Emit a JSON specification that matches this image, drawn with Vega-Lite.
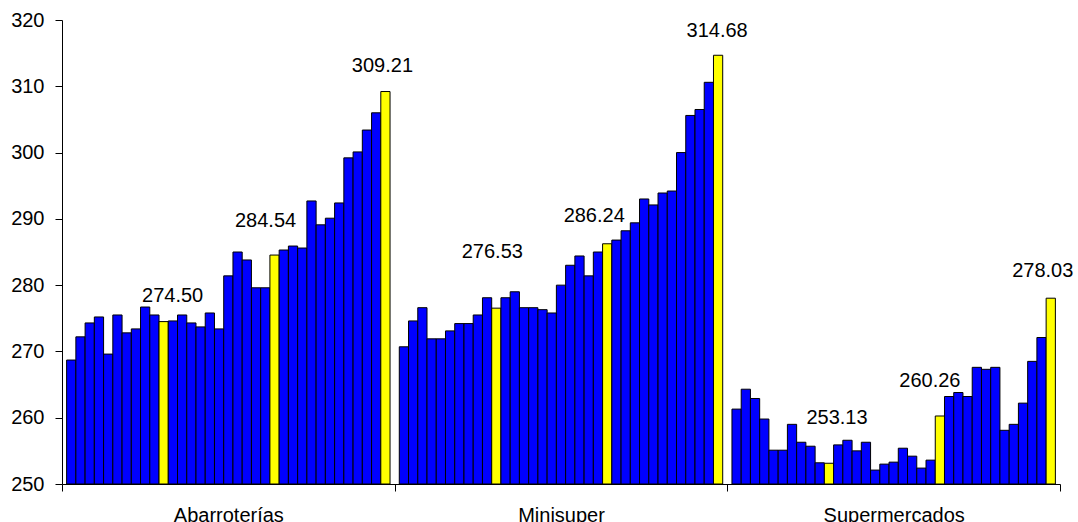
{
  "$schema": "https://vega.github.io/schema/vega-lite/v6.json",
  "width": 998,
  "height": 464,
  "autosize": "none",
  "padding": {"left": 62, "top": 20, "right": 18, "bottom": 38},
  "background": "white",
  "config": {
    "view": {"stroke": null},
    "font": "Liberation Sans",
    "axis": {"labelFont": "Liberation Sans", "labelFontSize": 20, "labelColor": "black", "domainColor": "black", "tickColor": "black", "grid": false, "title": null}
  },
  "data": {"values": [
    {"tipo": "Abarroterías", "n": 1, "precio": 268.7, "dic": "no"},
    {"tipo": "Abarroterías", "n": 2, "precio": 272.2, "dic": "no"},
    {"tipo": "Abarroterías", "n": 3, "precio": 274.3, "dic": "no"},
    {"tipo": "Abarroterías", "n": 4, "precio": 275.2, "dic": "no"},
    {"tipo": "Abarroterías", "n": 5, "precio": 269.6, "dic": "no"},
    {"tipo": "Abarroterías", "n": 6, "precio": 275.5, "dic": "no"},
    {"tipo": "Abarroterías", "n": 7, "precio": 272.8, "dic": "no"},
    {"tipo": "Abarroterías", "n": 8, "precio": 273.4, "dic": "no"},
    {"tipo": "Abarroterías", "n": 9, "precio": 276.7, "dic": "no"},
    {"tipo": "Abarroterías", "n": 10, "precio": 275.5, "dic": "no"},
    {"tipo": "Abarroterías", "n": 11, "precio": 274.50, "dic": "sí"},
    {"tipo": "Abarroterías", "n": 12, "precio": 274.6, "dic": "no"},
    {"tipo": "Abarroterías", "n": 13, "precio": 275.5, "dic": "no"},
    {"tipo": "Abarroterías", "n": 14, "precio": 274.3, "dic": "no"},
    {"tipo": "Abarroterías", "n": 15, "precio": 273.7, "dic": "no"},
    {"tipo": "Abarroterías", "n": 16, "precio": 275.8, "dic": "no"},
    {"tipo": "Abarroterías", "n": 17, "precio": 273.4, "dic": "no"},
    {"tipo": "Abarroterías", "n": 18, "precio": 281.4, "dic": "no"},
    {"tipo": "Abarroterías", "n": 19, "precio": 285.0, "dic": "no"},
    {"tipo": "Abarroterías", "n": 20, "precio": 283.8, "dic": "no"},
    {"tipo": "Abarroterías", "n": 21, "precio": 279.6, "dic": "no"},
    {"tipo": "Abarroterías", "n": 22, "precio": 279.6, "dic": "no"},
    {"tipo": "Abarroterías", "n": 23, "precio": 284.54, "dic": "sí"},
    {"tipo": "Abarroterías", "n": 24, "precio": 285.3, "dic": "no"},
    {"tipo": "Abarroterías", "n": 25, "precio": 285.9, "dic": "no"},
    {"tipo": "Abarroterías", "n": 26, "precio": 285.6, "dic": "no"},
    {"tipo": "Abarroterías", "n": 27, "precio": 292.7, "dic": "no"},
    {"tipo": "Abarroterías", "n": 28, "precio": 289.1, "dic": "no"},
    {"tipo": "Abarroterías", "n": 29, "precio": 290.1, "dic": "no"},
    {"tipo": "Abarroterías", "n": 30, "precio": 292.4, "dic": "no"},
    {"tipo": "Abarroterías", "n": 31, "precio": 299.2, "dic": "no"},
    {"tipo": "Abarroterías", "n": 32, "precio": 300.1, "dic": "no"},
    {"tipo": "Abarroterías", "n": 33, "precio": 303.4, "dic": "no"},
    {"tipo": "Abarroterías", "n": 34, "precio": 306.0, "dic": "no"},
    {"tipo": "Abarroterías", "n": 35, "precio": 309.21, "dic": "sí"},
    {"tipo": "Minisuper", "n": 1, "precio": 270.7, "dic": "no"},
    {"tipo": "Minisuper", "n": 2, "precio": 274.6, "dic": "no"},
    {"tipo": "Minisuper", "n": 3, "precio": 276.6, "dic": "no"},
    {"tipo": "Minisuper", "n": 4, "precio": 271.9, "dic": "no"},
    {"tipo": "Minisuper", "n": 5, "precio": 271.9, "dic": "no"},
    {"tipo": "Minisuper", "n": 6, "precio": 273.1, "dic": "no"},
    {"tipo": "Minisuper", "n": 7, "precio": 274.2, "dic": "no"},
    {"tipo": "Minisuper", "n": 8, "precio": 274.2, "dic": "no"},
    {"tipo": "Minisuper", "n": 9, "precio": 275.5, "dic": "no"},
    {"tipo": "Minisuper", "n": 10, "precio": 278.1, "dic": "no"},
    {"tipo": "Minisuper", "n": 11, "precio": 276.53, "dic": "sí"},
    {"tipo": "Minisuper", "n": 12, "precio": 278.1, "dic": "no"},
    {"tipo": "Minisuper", "n": 13, "precio": 279.0, "dic": "no"},
    {"tipo": "Minisuper", "n": 14, "precio": 276.6, "dic": "no"},
    {"tipo": "Minisuper", "n": 15, "precio": 276.6, "dic": "no"},
    {"tipo": "Minisuper", "n": 16, "precio": 276.3, "dic": "no"},
    {"tipo": "Minisuper", "n": 17, "precio": 275.8, "dic": "no"},
    {"tipo": "Minisuper", "n": 18, "precio": 280.0, "dic": "no"},
    {"tipo": "Minisuper", "n": 19, "precio": 283.0, "dic": "no"},
    {"tipo": "Minisuper", "n": 20, "precio": 284.4, "dic": "no"},
    {"tipo": "Minisuper", "n": 21, "precio": 281.4, "dic": "no"},
    {"tipo": "Minisuper", "n": 22, "precio": 285.0, "dic": "no"},
    {"tipo": "Minisuper", "n": 23, "precio": 286.24, "dic": "sí"},
    {"tipo": "Minisuper", "n": 24, "precio": 286.8, "dic": "no"},
    {"tipo": "Minisuper", "n": 25, "precio": 288.2, "dic": "no"},
    {"tipo": "Minisuper", "n": 26, "precio": 289.4, "dic": "no"},
    {"tipo": "Minisuper", "n": 27, "precio": 293.0, "dic": "no"},
    {"tipo": "Minisuper", "n": 28, "precio": 292.1, "dic": "no"},
    {"tipo": "Minisuper", "n": 29, "precio": 293.9, "dic": "no"},
    {"tipo": "Minisuper", "n": 30, "precio": 294.2, "dic": "no"},
    {"tipo": "Minisuper", "n": 31, "precio": 300.0, "dic": "no"},
    {"tipo": "Minisuper", "n": 32, "precio": 305.6, "dic": "no"},
    {"tipo": "Minisuper", "n": 33, "precio": 306.5, "dic": "no"},
    {"tipo": "Minisuper", "n": 34, "precio": 310.6, "dic": "no"},
    {"tipo": "Minisuper", "n": 35, "precio": 314.68, "dic": "sí"},
    {"tipo": "Supermercados", "n": 1, "precio": 261.3, "dic": "no"},
    {"tipo": "Supermercados", "n": 2, "precio": 264.3, "dic": "no"},
    {"tipo": "Supermercados", "n": 3, "precio": 262.9, "dic": "no"},
    {"tipo": "Supermercados", "n": 4, "precio": 259.8, "dic": "no"},
    {"tipo": "Supermercados", "n": 5, "precio": 255.1, "dic": "no"},
    {"tipo": "Supermercados", "n": 6, "precio": 255.1, "dic": "no"},
    {"tipo": "Supermercados", "n": 7, "precio": 259.0, "dic": "no"},
    {"tipo": "Supermercados", "n": 8, "precio": 256.3, "dic": "no"},
    {"tipo": "Supermercados", "n": 9, "precio": 255.7, "dic": "no"},
    {"tipo": "Supermercados", "n": 10, "precio": 253.2, "dic": "no"},
    {"tipo": "Supermercados", "n": 11, "precio": 253.13, "dic": "sí"},
    {"tipo": "Supermercados", "n": 12, "precio": 255.9, "dic": "no"},
    {"tipo": "Supermercados", "n": 13, "precio": 256.6, "dic": "no"},
    {"tipo": "Supermercados", "n": 14, "precio": 255.0, "dic": "no"},
    {"tipo": "Supermercados", "n": 15, "precio": 256.3, "dic": "no"},
    {"tipo": "Supermercados", "n": 16, "precio": 252.1, "dic": "no"},
    {"tipo": "Supermercados", "n": 17, "precio": 253.0, "dic": "no"},
    {"tipo": "Supermercados", "n": 18, "precio": 253.3, "dic": "no"},
    {"tipo": "Supermercados", "n": 19, "precio": 255.4, "dic": "no"},
    {"tipo": "Supermercados", "n": 20, "precio": 254.2, "dic": "no"},
    {"tipo": "Supermercados", "n": 21, "precio": 252.4, "dic": "no"},
    {"tipo": "Supermercados", "n": 22, "precio": 253.6, "dic": "no"},
    {"tipo": "Supermercados", "n": 23, "precio": 260.26, "dic": "sí"},
    {"tipo": "Supermercados", "n": 24, "precio": 263.2, "dic": "no"},
    {"tipo": "Supermercados", "n": 25, "precio": 263.8, "dic": "no"},
    {"tipo": "Supermercados", "n": 26, "precio": 263.2, "dic": "no"},
    {"tipo": "Supermercados", "n": 27, "precio": 267.6, "dic": "no"},
    {"tipo": "Supermercados", "n": 28, "precio": 267.3, "dic": "no"},
    {"tipo": "Supermercados", "n": 29, "precio": 267.6, "dic": "no"},
    {"tipo": "Supermercados", "n": 30, "precio": 258.1, "dic": "no"},
    {"tipo": "Supermercados", "n": 31, "precio": 259.0, "dic": "no"},
    {"tipo": "Supermercados", "n": 32, "precio": 262.2, "dic": "no"},
    {"tipo": "Supermercados", "n": 33, "precio": 268.5, "dic": "no"},
    {"tipo": "Supermercados", "n": 34, "precio": 272.1, "dic": "no"},
    {"tipo": "Supermercados", "n": 35, "precio": 278.03, "dic": "sí"}
  ]},
  "encoding": {
    "x": {"field": "tipo", "type": "nominal", "sort": null,
      "scale": {"paddingInner": 0, "paddingOuter": 0},
      "axis": {"labelAngle": 0, "tickBand": "extent", "tickSize": 7, "labelPadding": 14, "domainWidth": 1, "tickWidth": 1}},
    "xOffset": {"field": "n", "type": "ordinal", "scale": {"paddingInner": 0, "paddingOuter": 0.5}},
    "y": {"field": "precio", "type": "quantitative",
      "scale": {"domain": [250, 320], "zero": false, "nice": false},
      "axis": {"values": [250, 260, 270, 280, 290, 300, 310, 320], "tickSize": 7, "labelPadding": 11, "domainWidth": 1, "tickWidth": 1}}
  },
  "layer": [
    {
      "mark": {"type": "bar", "stroke": "black", "strokeWidth": 1},
      "encoding": {
        "y2": {"datum": 250},
        "color": {"field": "dic", "type": "nominal", "scale": {"domain": ["no", "sí"], "range": ["#0000FF", "#FFFF00"]}, "legend": null}
      }
    },
    {"transform": [{"filter": "datum.tipo == 'Abarroterías' && datum.n == 11"}],
     "mark": {"type": "text", "fontSize": 20, "font": "Liberation Sans", "align": "center", "baseline": "alphabetic", "dx": 9, "dy": -20, "color": "black"},
     "encoding": {"text": {"field": "precio", "type": "quantitative", "format": ".2f"}}},
    {"transform": [{"filter": "datum.tipo == 'Abarroterías' && datum.n == 23"}],
     "mark": {"type": "text", "fontSize": 20, "font": "Liberation Sans", "align": "center", "baseline": "alphabetic", "dx": -9, "dy": -28, "color": "black"},
     "encoding": {"text": {"field": "precio", "type": "quantitative", "format": ".2f"}}},
    {"transform": [{"filter": "datum.tipo == 'Abarroterías' && datum.n == 35"}],
     "mark": {"type": "text", "fontSize": 20, "font": "Liberation Sans", "align": "center", "baseline": "alphabetic", "dx": -3, "dy": -20, "color": "black"},
     "encoding": {"text": {"field": "precio", "type": "quantitative", "format": ".2f"}}},
    {"transform": [{"filter": "datum.tipo == 'Minisuper' && datum.n == 11"}],
     "mark": {"type": "text", "fontSize": 20, "font": "Liberation Sans", "align": "center", "baseline": "alphabetic", "dx": -4, "dy": -50, "color": "black"},
     "encoding": {"text": {"field": "precio", "type": "quantitative", "format": ".2f"}}},
    {"transform": [{"filter": "datum.tipo == 'Minisuper' && datum.n == 23"}],
     "mark": {"type": "text", "fontSize": 20, "font": "Liberation Sans", "align": "center", "baseline": "alphabetic", "dx": -13, "dy": -22, "color": "black"},
     "encoding": {"text": {"field": "precio", "type": "quantitative", "format": ".2f"}}},
    {"transform": [{"filter": "datum.tipo == 'Minisuper' && datum.n == 35"}],
     "mark": {"type": "text", "fontSize": 20, "font": "Liberation Sans", "align": "center", "baseline": "alphabetic", "dx": -1, "dy": -18, "color": "black"},
     "encoding": {"text": {"field": "precio", "type": "quantitative", "format": ".2f"}}},
    {"transform": [{"filter": "datum.tipo == 'Supermercados' && datum.n == 11"}],
     "mark": {"type": "text", "fontSize": 20, "font": "Liberation Sans", "align": "center", "baseline": "alphabetic", "dx": 8, "dy": -39, "color": "black"},
     "encoding": {"text": {"field": "precio", "type": "quantitative", "format": ".2f"}}},
    {"transform": [{"filter": "datum.tipo == 'Supermercados' && datum.n == 23"}],
     "mark": {"type": "text", "fontSize": 20, "font": "Liberation Sans", "align": "center", "baseline": "alphabetic", "dx": -10, "dy": -29, "color": "black"},
     "encoding": {"text": {"field": "precio", "type": "quantitative", "format": ".2f"}}},
    {"transform": [{"filter": "datum.tipo == 'Supermercados' && datum.n == 35"}],
     "mark": {"type": "text", "fontSize": 20, "font": "Liberation Sans", "align": "center", "baseline": "alphabetic", "dx": -8, "dy": -21, "color": "black"},
     "encoding": {"text": {"field": "precio", "type": "quantitative", "format": ".2f"}}}
  ]
}
